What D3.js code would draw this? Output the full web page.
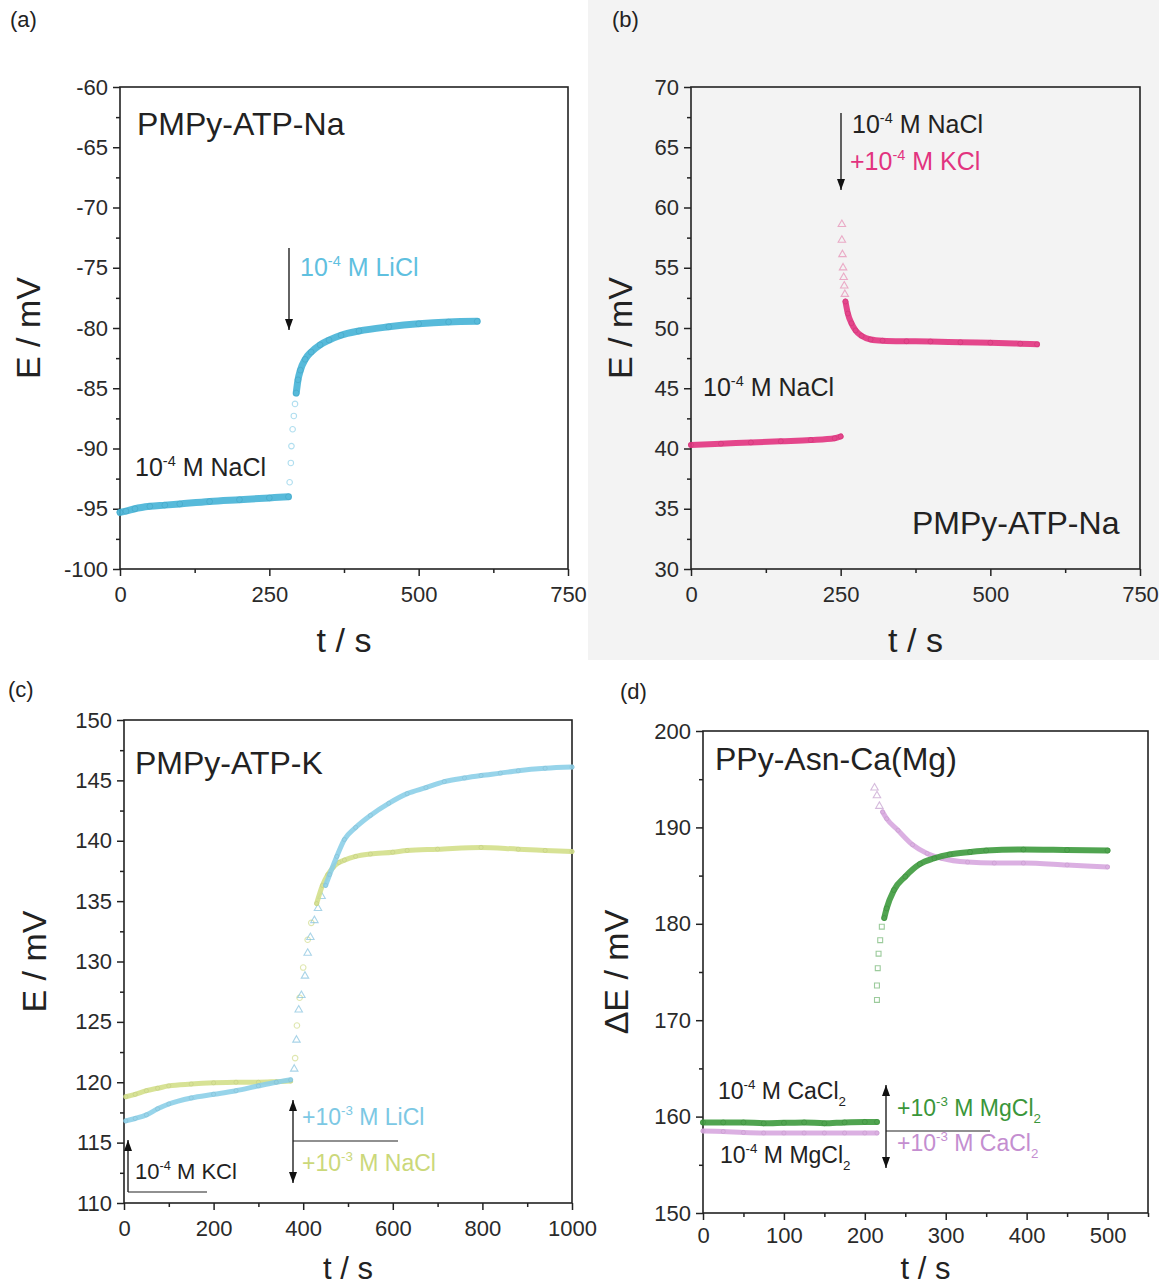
<!DOCTYPE html>
<html>
<head>
<meta charset="utf-8">
<script src="https://cdn.jsdelivr.net/npm/d3@7"></script>
<style>
  body { margin: 0; background: #fff; }
  svg text { font-family: "Liberation Sans", Arial, sans-serif; }
</style>
</head>
<body>
<script>
// ---- data ----
// (a) PMPy-ATP-Na, NaCl then LiCl
const aBase = [[0,-95.3],[10,-95.2],[25,-95.0],[50,-94.8],[75,-94.7],[100,-94.6],[150,-94.4],[200,-94.25],[250,-94.1],[282,-94.0]];
const aJump = [[284,-92.8],[286,-91.2],[287,-89.8],[289,-88.4],[291,-87.3],[293,-86.3]];
const aRise = [[295,-85.4],[298,-84.3],[302,-83.5],[310,-82.6],[320,-82.0],[335,-81.4],[350,-81.0],[370,-80.6],[400,-80.25],[450,-79.9],[500,-79.65],[550,-79.5],[598,-79.45]];

// (b) PMPy-ATP-Na, NaCl then +KCl
const bBase = [[0,40.3],[50,40.4],[100,40.5],[150,40.6],[200,40.7],[240,40.85],[250,41.0]];
const bJump = [[252,58.6],[252,57.3],[253,56.1],[254,55.0],[255,54.2],[256,53.5],[257,52.8]];
const bFall = [[258,52.2],[262,51.2],[268,50.4],[275,49.8],[285,49.35],[300,49.05],[320,48.95],[360,48.9],[400,48.88],[450,48.82],[500,48.78],[550,48.7],[578,48.65]];

// (c) PMPy-ATP-K, KCl then +LiCl / +NaCl
const cLiBase = [[4,116.8],[25,117.0],[50,117.3],[75,117.8],[100,118.2],[150,118.7],[200,119.0],[250,119.3],[300,119.7],[340,120.0],[372,120.2]];
const cLiJump = [[380,121.1],[385,123.5],[390,126.0],[396,127.2],[404,128.8],[410,130.7],[416,132.0],[425,133.4],[433,134.4],[441,135.4]];
const cLiRise = [[450,136.3],[459,137.2],[475,138.7],[492,140.1],[517,141.1],[550,142.1],[591,143.1],[632,143.9],[674,144.4],[715,144.9],[760,145.2],[797,145.4],[840,145.6],[880,145.8],[940,146.0],[1000,146.1]];
const cNaBase = [[4,118.8],[25,119.0],[50,119.3],[75,119.5],[100,119.7],[150,119.85],[200,119.95],[250,120.0],[300,120.0],[340,120.05],[372,120.1]];
const cNaJump = [[382,122.0],[386,124.7],[392,127.0],[400,129.5],[410,131.8],[418,133.2]];
const cNaRise = [[430,134.8],[443,136.3],[455,137.2],[467,137.8],[480,138.2],[492,138.4],[517,138.7],[550,138.9],[600,139.05],[632,139.2],[700,139.3],[797,139.45],[880,139.3],[940,139.2],[1000,139.1]];

// (d) PPy-Asn-Ca(Mg), CaCl2 then +MgCl2 (green) / MgCl2 then +CaCl2 (violet)
const dMgBase = [[0,159.4],[25,159.4],[50,159.4],[75,159.3],[100,159.35],[125,159.4],[150,159.3],[175,159.4],[200,159.45],[215,159.45]];
const dMgJump = [[215,172.1],[215,173.6],[216,175.4],[217,176.9],[219,178.3],[221,179.7]];
const dMgRise = [[224,180.6],[227,181.6],[236,183.5],[250,184.9],[268,186.2],[286,186.8],[305,187.2],[330,187.45],[350,187.6],[396,187.7],[450,187.65],[500,187.6]];
const dCaBase = [[0,158.5],[25,158.45],[50,158.35],[75,158.3],[100,158.3],[125,158.3],[150,158.3],[175,158.3],[200,158.3],[215,158.3]];
const dCaJump = [[212,194.1],[215,193.3],[218,192.2]];
const dCaFall = [[222,191.6],[227,190.9],[241,189.7],[259,188.2],[277,187.3],[295,186.8],[327,186.4],[360,186.3],[396,186.3],[450,186.1],[500,185.9]];

// tick values
const aYTicks = [-100,-95,-90,-85,-80,-75,-70,-65,-60];
const bYTicks = [30,35,40,45,50,55,60,65,70];
const abXTicks = [0,250,500,750];
const cYTicks = [110,115,120,125,130,135,140,145,150];
const cXTicks = [0,200,400,600,800,1000];
const dYTicks = [150,160,170,180,190,200];
const dXTicks = [0,100,200,300,400,500];

const svg = d3.select("body").append("svg")
  .attr("width", 1159).attr("height", 1287);

// panel (b) sits on a light grey tile
svg.append("rect").attr("x", 588).attr("y", 0).attr("width", 571).attr("height", 660).attr("fill", "#f3f3f3");

function panel(o) {
  const x = d3.scaleLinear().domain(o.xd).range([o.left, o.right]);
  const y = d3.scaleLinear().domain(o.yd).range([o.bottom, o.top]);
  const g = svg.append("g");

  // minor ticks
  g.append("g").attr("transform", `translate(0,${o.bottom})`)
    .call(d3.axisBottom(x).tickValues(o.xMinor).tickSize(4).tickFormat(""))
    .call(s => s.select(".domain").remove());
  g.append("g").attr("transform", `translate(${o.left},0)`)
    .call(d3.axisLeft(y).tickValues(o.yMinor).tickSize(4).tickFormat(""))
    .call(s => s.select(".domain").remove());
  // major ticks
  const xa = g.append("g").attr("transform", `translate(0,${o.bottom})`)
    .call(d3.axisBottom(x).tickValues(o.xTicks).tickSize(7).tickPadding(o.xPad).tickFormat(d => String(d)));
  const ya = g.append("g").attr("transform", `translate(${o.left},0)`)
    .call(d3.axisLeft(y).tickValues(o.yTicks).tickSize(7).tickPadding(5).tickFormat(d => String(d)));
  [xa, ya].forEach(a => {
    a.select(".domain").remove();
    a.selectAll("text").attr("font-size", 22).attr("fill", "#2a2a2a").attr("font-family", "Liberation Sans, Arial, sans-serif");
  });
  g.selectAll(".tick line").attr("stroke", "#222").attr("stroke-width", 1.5);

  // frame
  g.append("rect").attr("x", o.left).attr("y", o.top)
    .attr("width", o.right - o.left).attr("height", o.bottom - o.top)
    .attr("fill", "none").attr("stroke", "#222").attr("stroke-width", 1.6);

  // axis titles
  g.append("text").attr("x", (o.left + o.right) / 2).attr("y", o.bottom + o.xOff)
    .attr("text-anchor", "middle").attr("font-size", o.xSize).attr("fill", "#222").text("t / s");
  g.append("text").attr("transform", `translate(${o.left - o.yOff},${(o.top + o.bottom) / 2}) rotate(-90)`)
    .attr("text-anchor", "middle").attr("font-size", 34).attr("fill", "#222").text(o.yTitle);

  const line = d3.line().x(d => x(d[0])).y(d => y(d[1])).curve(d3.curveMonotoneX);
  return { g, x, y, line };
}

function band(p, data, color, w) {
  p.g.append("path").datum(data).attr("d", p.line)
    .attr("fill", "none").attr("stroke", color).attr("stroke-width", w)
    .attr("stroke-linecap", "round").attr("opacity", 0.9);
  p.g.selectAll(null).data(data).enter().append("circle")
    .attr("cx", d => p.x(d[0])).attr("cy", d => p.y(d[1])).attr("r", w / 2.4)
    .attr("fill", "none").attr("stroke", d3.color(color).darker(0.3)).attr("stroke-width", 0.8).attr("opacity", 0.6);
}

function jump(p, data, color, shape) {
  const sym = d3.symbol().type(shape).size(24);
  p.g.selectAll(null).data(data).enter().append("path")
    .attr("transform", d => `translate(${p.x(d[0])},${p.y(d[1])})`)
    .attr("d", sym).attr("fill", "none").attr("stroke", color).attr("stroke-width", 1.1).attr("opacity", 0.6);
}

function label(x, y, parts, size, color) {
  const t = svg.append("text").attr("x", x).attr("y", y).attr("font-size", size).attr("fill", color);
  parts.forEach(pt => {
    if (typeof pt === "string") {
      t.append("tspan").text(pt);
    } else if (pt.sup) {
      t.append("tspan").attr("dy", -size * 0.42).attr("font-size", size * 0.58).text(pt.sup);
      t.append("tspan").attr("dy", size * 0.42).text(" ");
    } else if (pt.sub) {
      t.append("tspan").attr("dy", size * 0.3).attr("font-size", size * 0.58).text(pt.sub);
      t.append("tspan").attr("dy", -size * 0.3).text("");
    }
  });
  return t;
}

function arrow(x1, y1, x2, y2, heads) {
  const g = svg.append("g");
  g.append("line").attr("x1", x1).attr("y1", y1).attr("x2", x2).attr("y2", y2)
    .attr("stroke", "#222").attr("stroke-width", 1.4);
  heads.forEach(h => {
    const [hx, hy, dir] = h; // dir: 1 down, -1 up
    g.append("path").attr("d", `M${hx - 4},${hy - dir * 11}L${hx + 4},${hy - dir * 11}L${hx},${hy}Z`).attr("fill", "#111");
  });
}

// ---- (a) ----
const pa = panel({ left: 120, right: 568, top: 87, bottom: 569, xd: [0, 750], yd: [-100, -60],
  xTicks: abXTicks, xMinor: [125, 375, 625], yTicks: aYTicks, yMinor: d3.range(-97.5, -60, 5),
  yTitle: "E / mV", xOff: 83, yOff: 80, xPad: 10, xSize: 34 });
const cyanA = "#45b3d6";
band(pa, aBase, cyanA, 7);
jump(pa, aJump, "#7cc8e4", d3.symbolCircle);
band(pa, aRise, cyanA, 7);
label(10, 27, ["(a)"], 22, "#222");
label(137, 135, ["PMPy-ATP-Na"], 32, "#222");
label(135, 476, ["10", { sup: "-4" }, "M NaCl"], 25, "#222");
label(300, 276, ["10", { sup: "-4" }, "M LiCl"], 25, "#5fc0df");
arrow(289, 248, 289, 330, [[289, 330, 1]]);

// ---- (b) ----
const pb = panel({ left: 691, right: 1140, top: 87, bottom: 569, xd: [0, 750], yd: [30, 70],
  xTicks: abXTicks, xMinor: [125, 375, 625], yTicks: bYTicks, yMinor: d3.range(32.5, 70, 5),
  yTitle: "E / mV", xOff: 83, yOff: 59, xPad: 10, xSize: 34 });
const pinkB = "#e2337f";
band(pb, bBase, pinkB, 6);
jump(pb, bJump, "#e57aa8", d3.symbolTriangle);
band(pb, bFall, pinkB, 6);
label(612, 27, ["(b)"], 22, "#222");
label(852, 133, ["10", { sup: "-4" }, "M NaCl"], 25, "#222");
label(850, 170, ["+10", { sup: "-4" }, "M KCl"], 25, pinkB);
arrow(841, 113, 841, 190, [[841, 190, 1]]);
label(703, 396, ["10", { sup: "-4" }, "M NaCl"], 25, "#222");
label(912, 534, ["PMPy-ATP-Na"], 32, "#222");

// ---- (c) ----
const pc = panel({ left: 124, right: 572, top: 720, bottom: 1203, xd: [0, 1000], yd: [110, 150],
  xTicks: cXTicks, xMinor: [100, 300, 500, 700, 900], yTicks: cYTicks, yMinor: d3.range(112.5, 150, 5),
  yTitle: "E / mV", xOff: 76, yOff: 78, xPad: 10, xSize: 31 });
const cyanC = "#8ccfe8", yelC = "#d3df8a";
band(pc, cNaBase, yelC, 5);
band(pc, cLiBase, cyanC, 5);
jump(pc, cNaJump, "#c9d67a", d3.symbolCircle);
jump(pc, cLiJump, "#6fb7d8", d3.symbolTriangle);
band(pc, cNaRise, yelC, 5);
band(pc, cLiRise, cyanC, 5);
label(8, 697, ["(c)"], 22, "#222");
label(135, 774, ["PMPy-ATP-K"], 32, "#222");
label(135, 1179, ["10", { sup: "-4" }, "M KCl"], 22, "#222");
arrow(128, 1192, 128, 1140, [[128, 1140, -1]]);
svg.append("line").attr("x1", 128).attr("y1", 1192).attr("x2", 207).attr("y2", 1192).attr("stroke", "#222").attr("stroke-width", 1.2);
arrow(293, 1100, 293, 1183, [[293, 1100, -1], [293, 1183, 1]]);
svg.append("line").attr("x1", 293).attr("y1", 1141).attr("x2", 398).attr("y2", 1141).attr("stroke", "#222").attr("stroke-width", 1.2);
label(302, 1125, ["+10", { sup: "-3" }, "M LiCl"], 23, "#7cc8e4");
label(302, 1171, ["+10", { sup: "-3" }, "M NaCl"], 23, "#cbd87a");

// ---- (d) ----
const pd = panel({ left: 703, right: 1148, top: 731, bottom: 1213, xd: [0, 550], yd: [150, 200],
  xTicks: dXTicks, xMinor: [50, 150, 250, 350, 450, 550], yTicks: dYTicks, yMinor: [155, 165, 175, 185, 195],
  yTitle: "\u0394E / mV", xOff: 66, yOff: 75, xPad: 7, xSize: 31 });
const greenD = "#3d9a3d", violetD = "#d7a7df";
band(pd, dCaBase, violetD, 5);
band(pd, dMgBase, greenD, 6);
jump(pd, dMgJump, "#5aa85a", d3.symbolSquare);
jump(pd, dCaJump, "#b98cc4", d3.symbolTriangle);
band(pd, dCaFall, violetD, 5);
band(pd, dMgRise, greenD, 6);
label(620, 699, ["(d)"], 22, "#222");
label(715, 770, ["PPy-Asn-Ca(Mg)"], 32, "#222");
label(718, 1099, ["10", { sup: "-4" }, "M CaCl", { sub: "2" }], 23, "#222");
label(720, 1163, ["10", { sup: "-4" }, "M MgCl", { sub: "2" }], 23, "#222");
arrow(886, 1085, 886, 1168, [[886, 1085, -1], [886, 1168, 1]]);
svg.append("line").attr("x1", 886).attr("y1", 1131).attr("x2", 990).attr("y2", 1131).attr("stroke", "#222").attr("stroke-width", 1.2);
label(897, 1116, ["+10", { sup: "-3" }, "M MgCl", { sub: "2" }], 23, "#3a963a");
label(897, 1151, ["+10", { sup: "-3" }, "M CaCl", { sub: "2" }], 23, "#c48ed0");
</script>
</body>
</html>
